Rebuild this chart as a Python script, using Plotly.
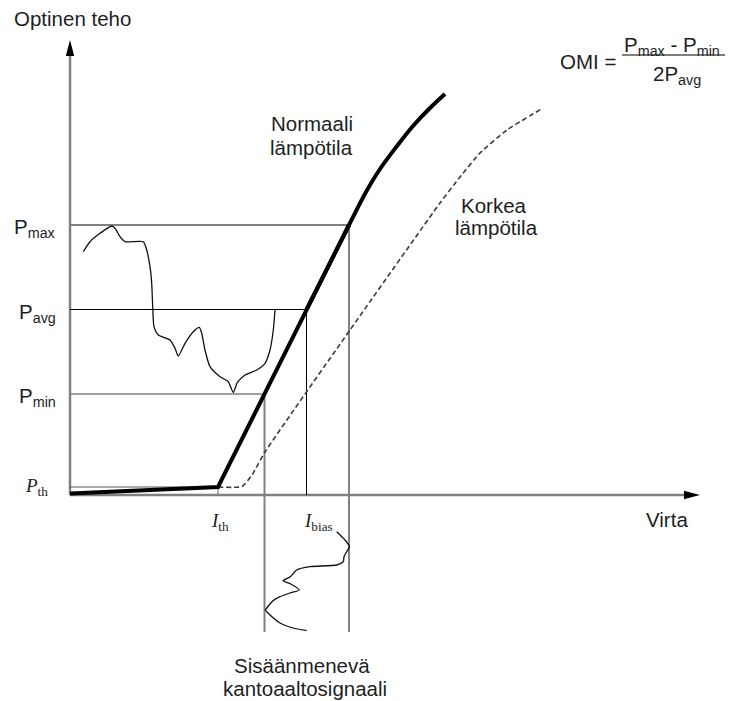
import plotly.graph_objects as go

# Operating point of the laser (current in arbitrary units, optical power in arbitrary units)
I_TH = 14.8          # threshold current
P_TH = 0.8           # power at threshold
P_MIN = 10.1
P_AVG = 18.55
P_MAX = 27.0
I_MIN = 19.45        # current giving P_MIN
I_BIAS = 23.65       # bias current giving P_AVG
I_MAX = 27.9         # current giving P_MAX
I_SIGNAL_BOTTOM = -13.7   # lower end of the input-signal guides

# Axis extents
X_RIGHT = 63.0
Y_TOP = 45.5

# P-I curve at normal temperature: linear part and saturating part
normal_lin_I = [0.0, I_TH, I_MAX]
normal_lin_P = [0.15, P_TH, P_MAX]
normal_sat_I = [I_BIAS, I_MAX, 29.6, 31.0, 32.7, 34.3, 36.0, 37.5]
normal_sat_P = [P_AVG, P_MAX, 30.3, 32.6, 34.9, 36.9, 38.7, 40.1]

# P-I curve at high temperature
hot_I = [I_TH, 17.2, 18.2, 19.5, 28.0, 37.0, 39.0, 41.0, 43.7, 47.3]
hot_P = [P_TH, 0.85, 2.0, 4.3, 16.5, 29.2, 31.8, 34.2, 36.5, 38.7]

# Modulated optical output (drawn against the power axis)
out_x = [1.33, 2.0, 3.0, 4.17, 4.5, 5.0, 5.5, 7.33, 7.67, 8.0, 8.17, 8.27, 8.4,
         8.83, 10.0, 10.5, 10.83, 11.5, 12.33, 12.93, 13.17, 13.5, 14.0, 15.0,
         15.83, 16.33, 16.73, 17.5, 18.67, 19.5, 20.0, 20.33, 20.5]
out_y = [24.33, 25.33, 26.17, 26.9, 26.67, 25.83, 25.33, 25.33, 24.5, 22.83,
         21.17, 18.83, 16.83, 16.0, 15.5, 14.67, 13.9, 15.17, 16.33, 16.77,
         16.17, 14.5, 12.83, 11.83, 11.33, 10.25, 11.23, 12.0, 12.5, 13.17,
         14.5, 16.5, 18.5]

# Input carrier signal (drawn against the current axis, below it)
in_x = [26.67, 27.5, 27.95, 27.67, 27.4, 27.33, 26.67, 24.0, 22.67, 22.0, 21.3,
        22.07, 22.93, 22.0, 21.0, 20.3, 19.83, 19.55, 20.0, 21.0, 22.3, 23.67]
in_y = [-3.67, -4.5, -5.17, -5.67, -6.17, -6.67, -7.0, -7.17, -7.5, -8.2, -8.57,
        -8.9, -9.5, -9.8, -10.17, -10.57, -11.1, -11.5, -12.0, -12.8, -13.3, -13.57]

GRAY = "#808080"
TEXT = "#1e1e1e"
SANS = "Liberation Sans, Arial, sans-serif"
SERIF = "Liberation Serif, Times New Roman, serif"
FONT_SIZE = 20.5

fig = go.Figure()


def seg(x0, y0, x1, y1, color, width):
    fig.add_shape(type="line", x0=x0, y0=y0, x1=x1, y1=y1,
                  line=dict(color=color, width=width), layer="below")


# Axes with arrowheads
seg(0, 0, 0, Y_TOP - 1.4, GRAY, 2.5)
seg(0, 0, X_RIGHT - 1.4, 0, GRAY, 2.5)
fig.add_shape(type="path",
              path=f"M 0,{Y_TOP} L -0.42,{Y_TOP - 1.6} L 0.42,{Y_TOP - 1.6} Z",
              fillcolor="black", line=dict(width=0))
fig.add_shape(type="path",
              path=f"M {X_RIGHT},0 L {X_RIGHT - 1.6},0.42 L {X_RIGHT - 1.6},-0.42 Z",
              fillcolor="black", line=dict(width=0))

# Guide lines for the operating points
seg(0, P_TH, I_TH, P_TH, "#555555", 1.2)
seg(I_TH, P_TH, I_TH, 0, GRAY, 1.2)
seg(0, P_MAX, I_MAX, P_MAX, GRAY, 2)
seg(0, P_AVG, I_BIAS, P_AVG, "black", 1)
seg(0, P_MIN, I_MIN, P_MIN, GRAY, 1.6)
seg(I_MIN, P_MIN, I_MIN, I_SIGNAL_BOTTOM, GRAY, 2)
seg(I_BIAS, P_AVG, I_BIAS, 0, "black", 1)
seg(I_MAX, P_MAX, I_MAX, I_SIGNAL_BOTTOM, GRAY, 2)

# Signals
fig.add_trace(go.Scatter(x=out_x, y=out_y, mode="lines",
                         line=dict(color="#111111", width=1.3, shape="spline", smoothing=0.6)))
fig.add_trace(go.Scatter(x=in_x, y=in_y, mode="lines",
                         line=dict(color="#111111", width=1.3, shape="spline", smoothing=0.6)))

# P-I curves
fig.add_trace(go.Scatter(x=hot_I, y=hot_P, mode="lines",
                         line=dict(color="#3a3a3a", width=1.6, dash="5px,3px",
                                   shape="spline", smoothing=0.5)))
fig.add_trace(go.Scatter(x=normal_lin_I, y=normal_lin_P, mode="lines",
                         line=dict(color="black", width=4)))
fig.add_trace(go.Scatter(x=normal_sat_I, y=normal_sat_P, mode="lines",
                         line=dict(color="black", width=4, shape="spline", smoothing=1.0)))


def label(x, y, text, size=FONT_SIZE, xanchor="center", family=SANS, yshift=0):
    fig.add_annotation(x=x, y=y, text=text, showarrow=False, xanchor=xanchor,
                       yanchor="middle", yshift=yshift,
                       font=dict(family=family, size=size, color=TEXT))


label(-5.8, 47.7, "Optinen teho", xanchor="left")
label(59.7, -2.4, "Virta")
label(24.15, 37.2, "Normaali")
label(24.15, 34.8, "lämpötila")
label(42.4, 29.0, "Korkea")
label(42.6, 26.8, "lämpötila")
label(23.2, -17.0, "Sisäänmenevä")
label(23.5, -19.3, "kantoaaltosignaali")

label(-1.2, P_MAX, "P<sub>max</sub>", xanchor="right", yshift=-3)
label(-1.2, P_AVG, "P<sub>avg</sub>", xanchor="right", yshift=-3)
label(-1.2, P_MIN, "P<sub>min</sub>", xanchor="right", yshift=-3)
label(-2.0, P_TH + 0.3, "<i>P</i><sub>th</sub>", size=19, xanchor="right", family=SERIF, yshift=-3)
label(I_TH + 0.15, -2.35, "<i>I</i><sub>th</sub>", size=19, family=SERIF, yshift=-3)
label(23.2, -2.35, "<i>I</i><sub>bias</sub>", size=19, xanchor="left", family=SERIF, yshift=-3)

# Modulation index formula
label(54.8, 43.4, "OMI =", xanchor="right")
fig.add_shape(type="line", x0=55.2, y0=44.0, x1=65.5, y1=44.0,
              line=dict(color="black", width=1.2))
label(60.2, 45.1, "P<sub>max</sub> - P<sub>min</sub>", yshift=-2)
label(60.7, 42.2, "2P<sub>avg</sub>", yshift=-2)

fig.update_layout(
    width=729, height=701, autosize=False,
    margin=dict(l=0, r=0, t=0, b=0),
    paper_bgcolor="white", plot_bgcolor="white",
    showlegend=False,
    xaxis=dict(range=[-7.0, 65.9], visible=False, fixedrange=True),
    yaxis=dict(range=[-20.6, 49.5], visible=False, fixedrange=True),
)

fig.write_html("out.html")
